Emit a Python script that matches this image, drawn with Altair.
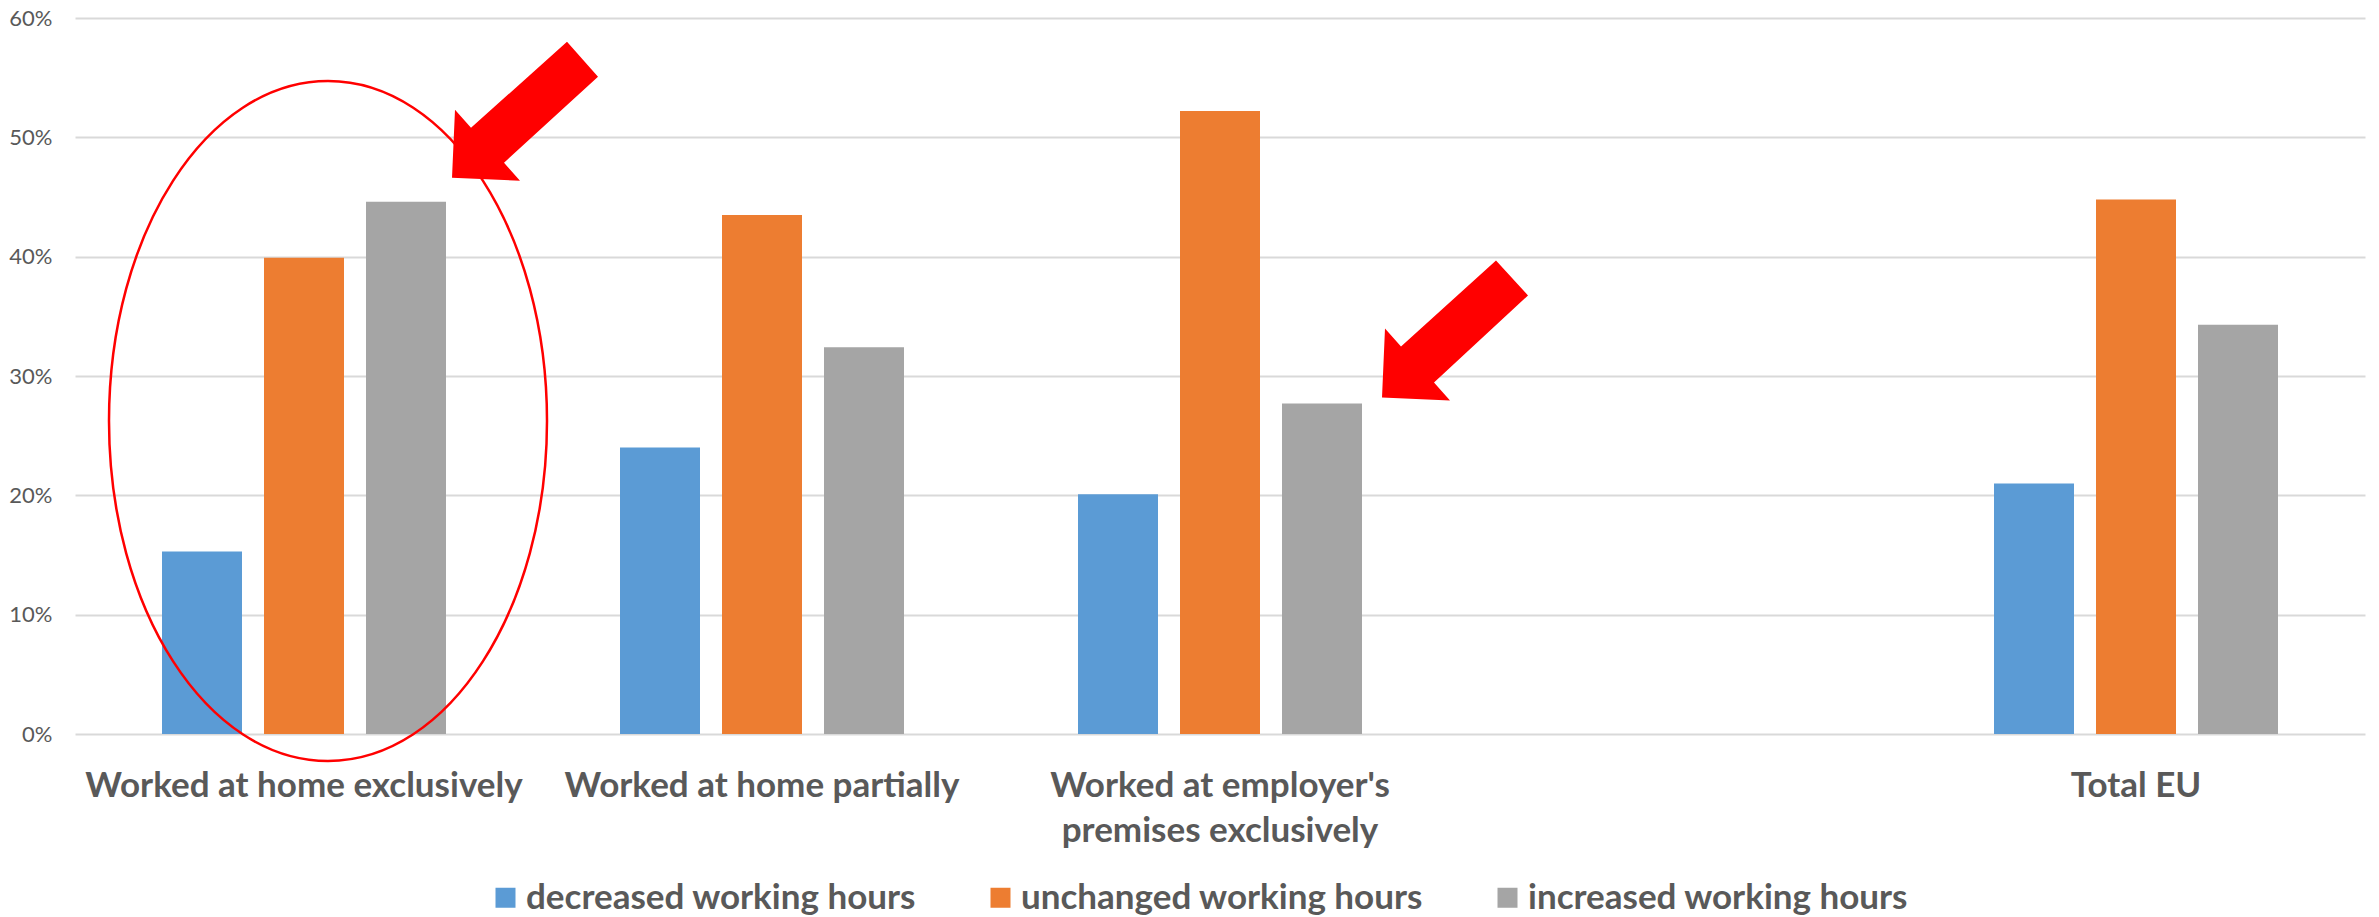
import altair as alt
import pandas as pd

# Share of workers by change in working hours, per place of work
categories = [
    "Worked at home exclusively",
    "Worked at home partially",
    "Worked at employer's\npremises exclusively",
    "Total EU",
]
series = ["decreased working hours", "unchanged working hours", "increased working hours"]
decreased = [0.153, 0.240, 0.201, 0.210]
unchanged = [0.399, 0.435, 0.522, 0.448]
increased = [0.446, 0.324, 0.277, 0.343]
colors = ["#5B9BD5", "#ED7D31", "#A5A5A5"]
y_ticks = [0, 0.1, 0.2, 0.3, 0.4, 0.5, 0.6]

# an empty slot separates the EU total from the three groups
spacer = " "
x_domain = categories[:3] + [spacer] + categories[3:]

rows = []
for s, vals in zip(series, [decreased, unchanged, increased]):
    for c, v in zip(categories, vals):
        rows.append({"category": c, "series": s, "share": v})
df = pd.DataFrame(rows)

TEXT = "#595959"
FONT = "Lato"

x_scale = alt.Scale(domain=x_domain, paddingInner=0, paddingOuter=0)
y_scale = alt.Scale(domain=[0, 0.6], nice=False)

x_axis = alt.Axis(
    title=None, labelAngle=0, domain=False, ticks=False, grid=False,
    labelExpr="split(datum.label, '\\n')",
    labelFont=FONT, labelFontSize=35, labelFontWeight="bold", labelColor=TEXT,
    labelPadding=34, labelLineHeight=45, labelLimit=800,
)
y_axis = alt.Axis(
    title=None, values=y_ticks, format=".0%", domain=False, ticks=False,
    grid=True, gridColor="#D9D9D9", gridWidth=2,
    labelFont=FONT, labelFontSize=22, labelColor=TEXT, labelPadding=23,
)

bars = alt.Chart(df).mark_bar().encode(
    x=alt.X("category:N", scale=x_scale, axis=x_axis),
    xOffset=alt.XOffset(
        "series:N",
        scale=alt.Scale(domain=series, paddingInner=0.2157, paddingOuter=0.853),
    ),
    y=alt.Y("share:Q", scale=y_scale, axis=y_axis),
    color=alt.Color(
        "series:N",
        scale=alt.Scale(domain=series, range=colors),
        legend=alt.Legend(
            title=None, orient="none", legendX=413, legendY=862,
            direction="horizontal", symbolType="square", symbolSize=400,
            symbolStrokeWidth=0, labelFont=FONT, labelFontSize=35,
            labelFontWeight="bold", labelColor=TEXT, labelOffset=3,
            columnPadding=66, labelLimit=800,
        ),
    ),
)

# highlight ring around the home-only group (path in pixels around the group's base)
ring_path = "M -195 -313 A 219 340 0 1 0 243 -313 A 219 340 0 1 0 -195 -313 Z"
ring_df = pd.DataFrame({"category": [categories[0]], "share": [0.0]})
ring = alt.Chart(ring_df).mark_point(
    shape=ring_path, size=4, filled=False, stroke="#FF0000",
    strokeWidth=2.5, opacity=1,
).encode(
    x=alt.X("category:N", scale=x_scale, axis=x_axis),
    y=alt.Y("share:Q", scale=y_scale, axis=y_axis),
)

# block arrows pointing at the "increased" bars, anchored at each bar's top
arrow_names = ["home", "premises"]
arrow_paths = [
    "M 263 -160 L 294 -125 L 200 -39 L 216 -21 L 148 -24 L 151 -92 L 167 -74 Z",
    "M 276 -143 L 308 -108 L 214 -21 L 230 -3 L 162 -6 L 165 -75 L 181 -57 Z",
]
arrow_df = pd.DataFrame({
    "category": [categories[0], categories[2]],
    "share": [increased[0], increased[2]],
    "arrow": arrow_names,
})
arrows = alt.Chart(arrow_df).mark_point(
    filled=True, size=4, color="#FF0000", opacity=1, strokeWidth=0,
).encode(
    x=alt.X("category:N", scale=x_scale, axis=x_axis),
    y=alt.Y("share:Q", scale=y_scale, axis=y_axis),
    shape=alt.Shape(
        "arrow:N", scale=alt.Scale(domain=arrow_names, range=arrow_paths), legend=None
    ),
)

chart = alt.layer(bars, ring, arrows).properties(
    width=2290,
    height=716,
    autosize=alt.AutoSizeParams(type="none"),
    padding={"left": 75, "top": 18, "right": 14, "bottom": 183},
    background="white",
).configure_view(stroke=None)

chart.save("out.html", embed_options={"renderer": "svg", "actions": False})
